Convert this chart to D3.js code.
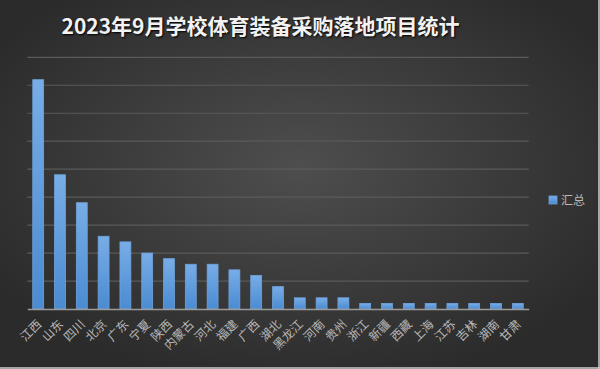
<!DOCTYPE html>
<html>
<head>
<meta charset="utf-8">
<script src="https://cdn.jsdelivr.net/npm/d3@7"></script>
<style>
  body { margin: 0; background: #333; }
  svg { display: block; }
</style>
</head>
<body>
<svg id="svg" width="600" height="369"></svg>
<script>
var provinces = ["江西", "山东", "四川", "北京", "广东", "宁夏", "陕西", "内蒙古", "河北", "福建", "广西", "湖北",
  "黑龙江", "河南", "贵州", "浙江", "新疆", "西藏", "上海", "江苏", "吉林", "湖南", "甘肃"];
var totals = [41, 24, 19, 13, 12, 10, 9, 8, 8, 7, 6, 4, 2, 2, 2, 1, 1, 1, 1, 1, 1, 1, 1];
var yTicks = [0, 5, 10, 15, 20, 25, 30, 35, 40, 45];
var seriesName = "汇总";
var title = "2023年9月学校体育装备采购落地项目统计";

var svg = d3.select("#svg");
var width = 600, height = 369;

var defs = svg.append("defs");
var bg = defs.append("radialGradient").attr("id", "bg")
  .attr("cx", "50%").attr("cy", "45%").attr("r", "60%");
bg.append("stop").attr("offset", "0%").attr("stop-color", "#4e4e4e");
bg.append("stop").attr("offset", "100%").attr("stop-color", "#2b2b2b");

var barGrad = defs.append("linearGradient").attr("id", "bar")
  .attr("x1", 0).attr("y1", 0).attr("x2", 0).attr("y2", 1);
barGrad.append("stop").attr("offset", "0%").attr("stop-color", "#78ade6");
barGrad.append("stop").attr("offset", "100%").attr("stop-color", "#4a8bd2");

svg.append("rect").attr("width", width).attr("height", height).attr("fill", "url(#bg)");
// thin light border on right / bottom
svg.append("line").attr("x1", 0).attr("x2", width).attr("y1", height - 1).attr("y2", height - 1)
  .attr("stroke", "#cfcfcf").attr("stroke-width", 1.5);
svg.append("line").attr("x1", width - 1).attr("x2", width - 1).attr("y1", 0).attr("y2", height)
  .attr("stroke", "#cfcfcf").attr("stroke-width", 1.5);

var plot = { left: 27.3, right: 528.7, top: 57.3, bottom: 309 };

var xScale = d3.scaleBand()
  .domain(provinces)
  .range([plot.left, plot.right])
  .paddingInner(0.5)
  .paddingOuter(0.25);

var yScale = d3.scaleLinear()
  .domain([0, 45])
  .range([plot.bottom, plot.top]);

// gridlines
svg.append("g")
  .selectAll("line")
  .data(yTicks.slice(1))
  .enter()
  .append("line")
  .attr("x1", plot.left).attr("x2", plot.right)
  .attr("y1", function (d) { return yScale(d); })
  .attr("y2", function (d) { return yScale(d); })
  .attr("stroke", "#5a5a5a")
  .attr("stroke-width", 1.2);

// bars
svg.append("g")
  .selectAll("rect")
  .data(totals)
  .enter()
  .append("rect")
  .attr("x", function (d, i) { return xScale(provinces[i]); })
  .attr("y", function (d) { return yScale(d); })
  .attr("width", xScale.bandwidth())
  .attr("height", function (d) { return plot.bottom - yScale(d); })
  .attr("fill", "url(#bar)")
  .attr("stroke", "#6da3dc")
  .attr("stroke-width", 0.8);

// x axis
var xAxis = svg.append("g")
  .attr("transform", "translate(0," + plot.bottom + ")")
  .call(d3.axisBottom(xScale).tickSize(0).tickPadding(0));
xAxis.select(".domain").attr("stroke", "#9a9a9a").attr("stroke-width", 1.5);
xAxis.selectAll("text")
  .attr("fill", "#b8b8b8")
  .style("font-family", "'Noto Sans CJK SC', sans-serif")
  .style("font-size", "12px")
  .attr("text-anchor", "end")
  .attr("dy", 0)
  .attr("transform", "translate(4,16) rotate(-45)");

// legend
svg.append("rect").attr("x", 549).attr("y", 196).attr("width", 8).attr("height", 8)
  .attr("fill", "url(#bar)").attr("stroke", "#6da3dc").attr("stroke-width", 0.8);
svg.append("text").attr("x", 561).attr("y", 205)
  .attr("fill", "#b8b8b8")
  .style("font-family", "'Noto Sans CJK SC', sans-serif")
  .style("font-size", "12px")
  .text(seriesName);

// title
svg.append("text")
  .attr("x", 260.5).attr("y", 34)
  .attr("text-anchor", "middle")
  .attr("fill", "#f2f2f2")
  .style("font-family", "'Noto Sans CJK SC', sans-serif")
  .style("font-weight", "bold")
  .style("font-size", "21px")
  .style("text-shadow", "1px 1px 2px #000")
  .text(title);
</script>
</body>
</html>
